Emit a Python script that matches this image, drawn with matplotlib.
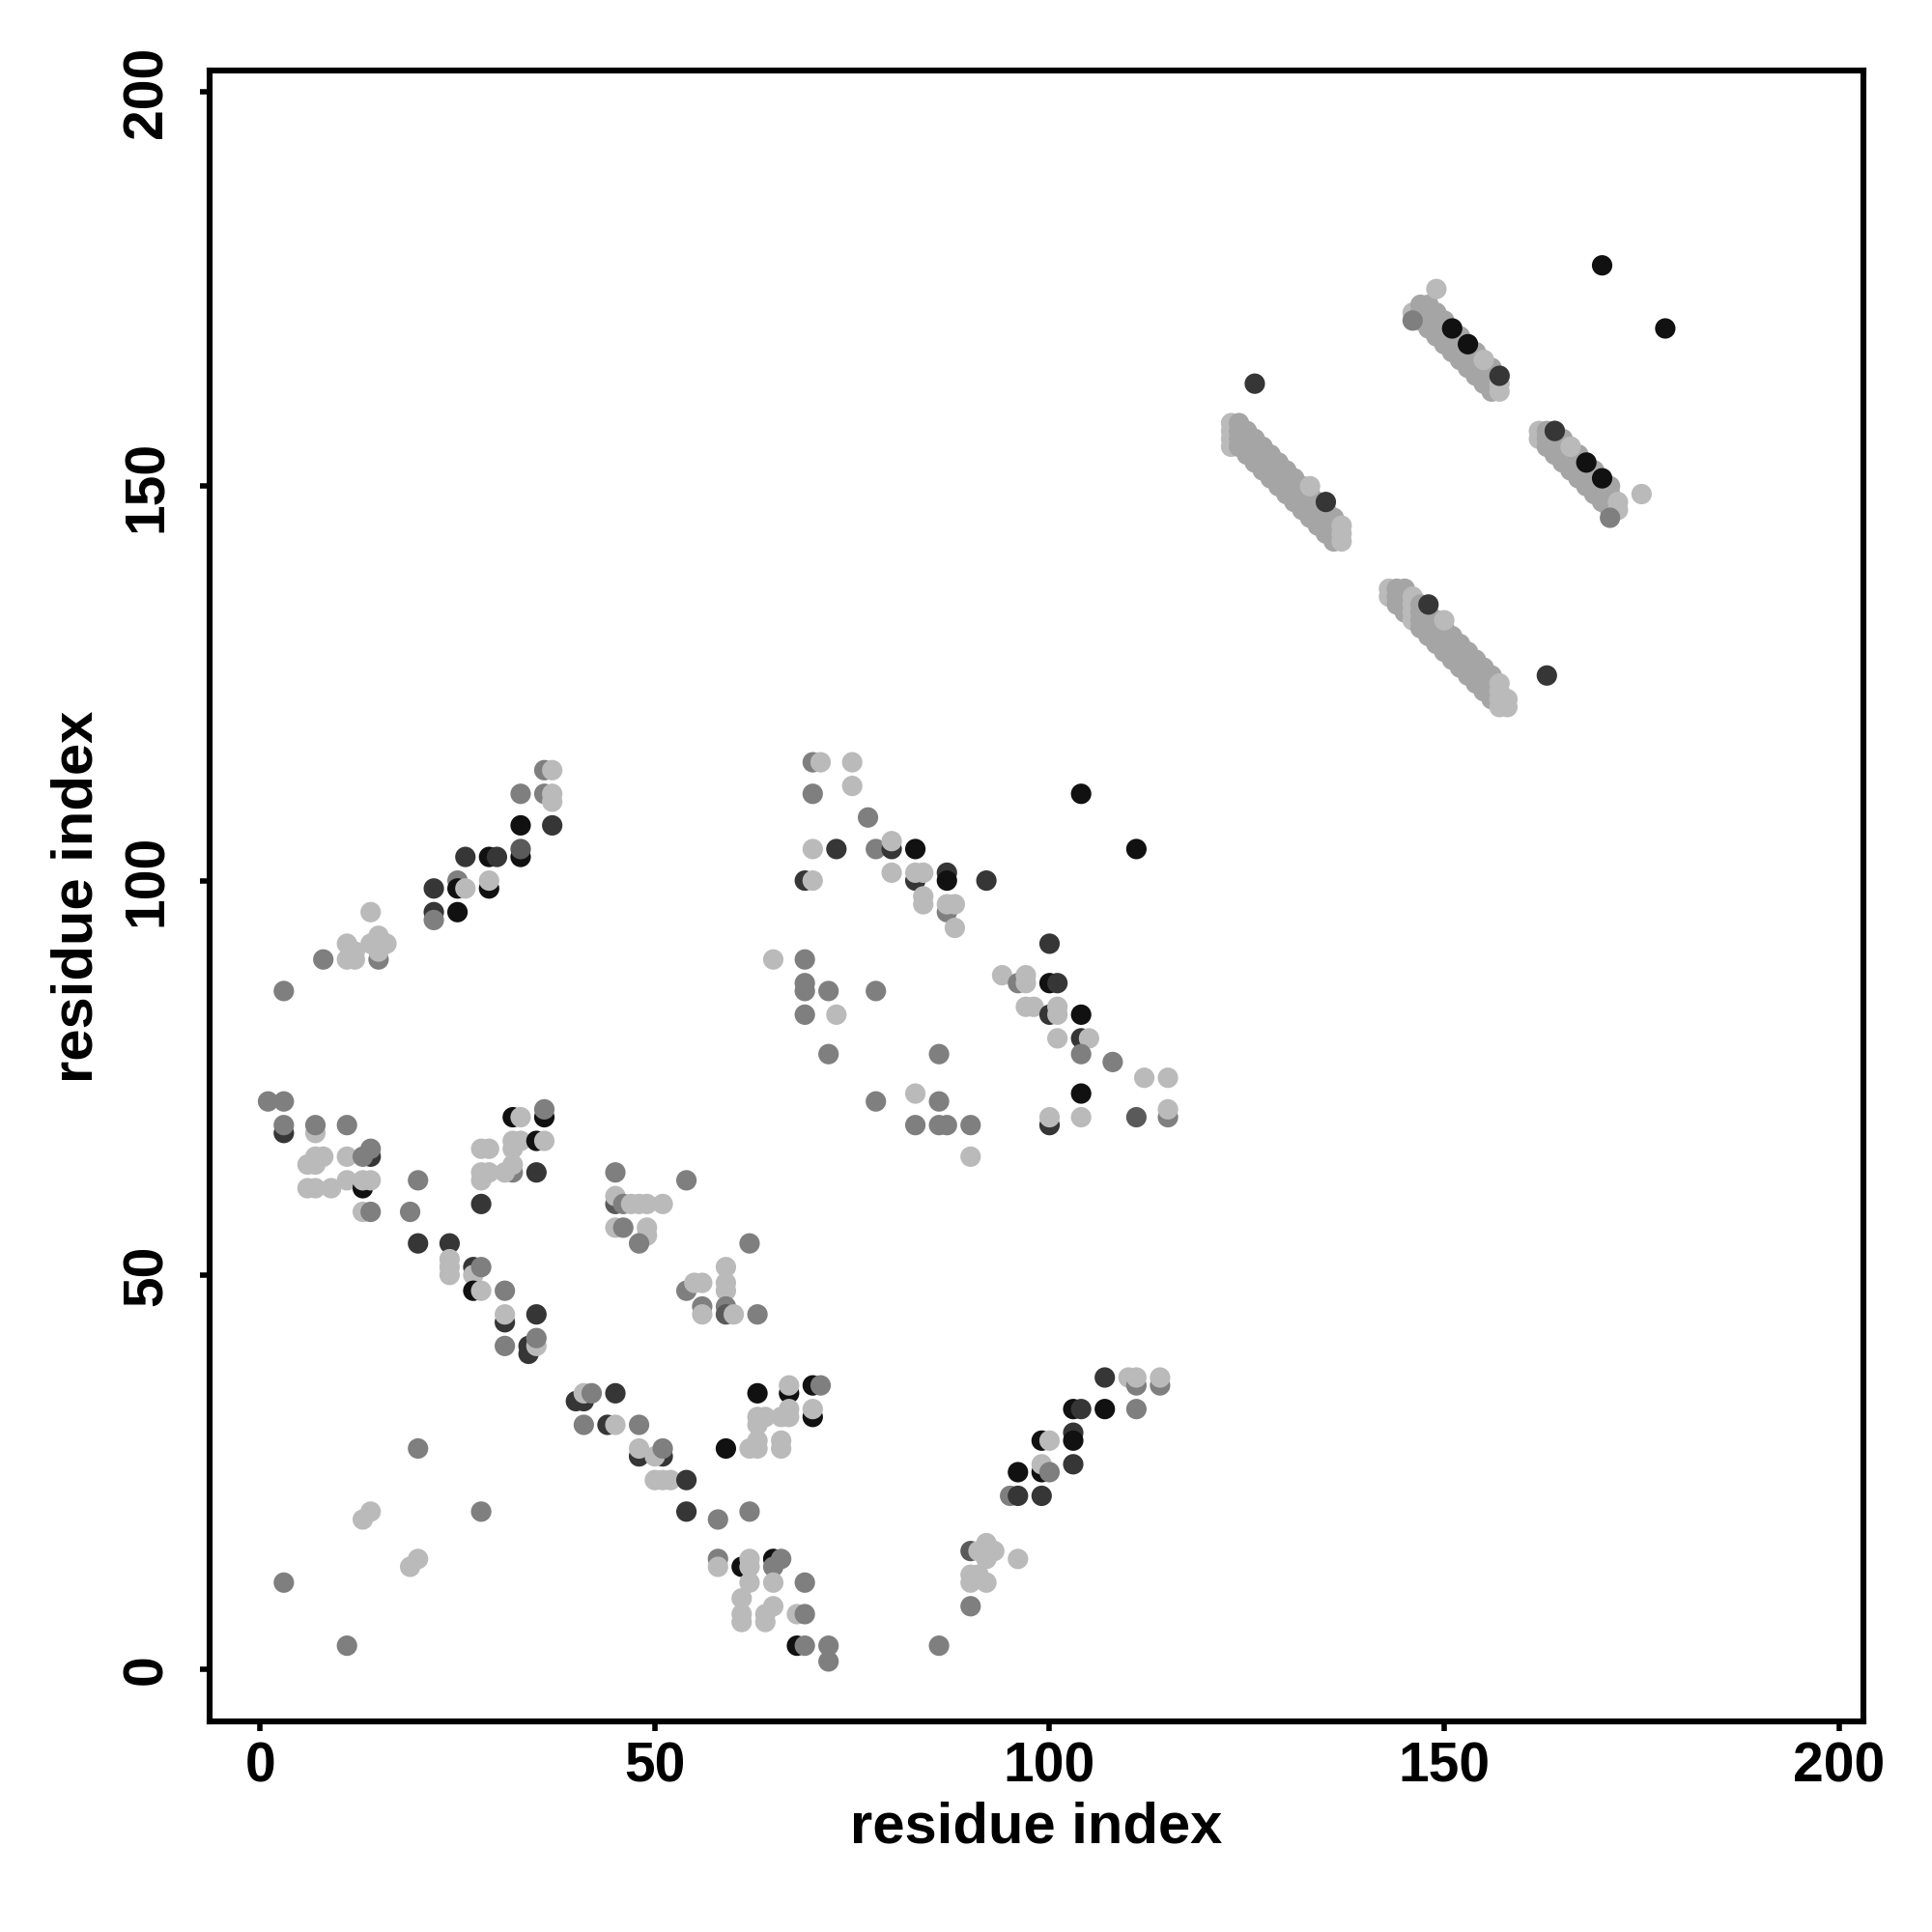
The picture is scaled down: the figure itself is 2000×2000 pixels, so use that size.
import matplotlib.pyplot as plt

plt.rcParams['font.family'] = ['Liberation Sans', 'DejaVu Sans']
plt.rcParams['font.weight'] = 'bold'

# grey level of each contact (L light ... K black)
shades = {'L': '#bababa', 'B': '#a5a5a5', 'M': '#7f7f7f',
          'G': '#5a5a5a', 'D': '#363636', 'K': '#111111'}

# scattered contacts (residue i, residue j, shade)
region_a = [(3, 86, 'M'), (8, 90, 'M'), (11, 92, 'L'), (12, 91, 'L'), (11, 90, 'L'), (12, 90, 'L'),
            (14, 96, 'L'), (15, 90, 'M'), (15, 93, 'L'), (16, 92, 'L'), (14, 92, 'L'), (15, 91, 'L'),
            (22, 99, 'D'), (22, 96, 'D'), (22, 95, 'M'), (25, 100, 'M'), (25, 99, 'K'), (26, 99, 'L'),
            (25, 96, 'K'), (26, 103, 'D'), (29, 103, 'K'), (30, 103, 'D'), (29, 99, 'K'), (29, 100, 'L'),
            (33, 103, 'K'), (33, 104, 'G'), (33, 107, 'K'), (33, 111, 'M'), (36, 114, 'M'), (37, 114, 'L'),
            (36, 111, 'M'), (37, 111, 'L'), (37, 110, 'L'), (37, 107, 'D')]

region_b = [(1, 72, 'M'), (3, 72, 'M'), (3, 68, 'D'), (3, 69, 'M'), (7, 68, 'L'), (7, 69, 'M'),
            (11, 69, 'M'), (6, 64, 'L'), (7, 64, 'L'), (7, 65, 'L'), (8, 65, 'L'), (11, 65, 'L'),
            (14, 65, 'D'), (13, 65, 'M'), (14, 66, 'M'), (6, 61, 'L'), (7, 61, 'L'), (9, 61, 'L'),
            (11, 62, 'L'), (13, 61, 'K'), (13, 62, 'L'), (14, 62, 'L'), (13, 58, 'L'), (14, 58, 'M'),
            (20, 62, 'M'), (19, 58, 'M'), (28, 59, 'D'), (28, 66, 'L'), (29, 66, 'L'), (28, 63, 'L'),
            (29, 63, 'L'), (28, 62, 'L'), (32, 63, 'M'), (31, 63, 'L'), (32, 64, 'L'), (32, 67, 'L'),
            (33, 67, 'L'), (32, 66, 'L'), (32, 70, 'K'), (33, 70, 'L'), (35, 67, 'K'), (36, 67, 'L'),
            (36, 70, 'K'), (36, 71, 'M'), (35, 63, 'D')]

region_c = [(20, 54, 'D'), (24, 54, 'D'), (24, 52, 'L'), (24, 51, 'L'), (24, 50, 'L'), (27, 51, 'D'),
            (27, 50, 'L'), (28, 51, 'M'), (27, 48, 'K'), (28, 48, 'L'), (31, 48, 'M'), (31, 44, 'D'),
            (31, 45, 'L'), (35, 45, 'D'), (31, 41, 'M'), (34, 41, 'D'), (34, 40, 'D'), (35, 41, 'L'),
            (35, 42, 'M'), (40, 34, 'D'), (41, 34, 'D'), (41, 35, 'L'), (42, 35, 'M'), (41, 31, 'M'),
            (20, 28, 'M'), (14, 20, 'L'), (13, 19, 'L'), (28, 20, 'M'), (20, 14, 'L'), (19, 13, 'L'),
            (3, 11, 'M'), (11, 3, 'M')]

region_d = [(45, 63, 'M'), (54, 62, 'M'), (45, 59, 'G'), (45, 60, 'L'), (46, 59, 'M'), (47, 59, 'L'),
            (48, 59, 'L'), (49, 59, 'L'), (51, 59, 'L'), (45, 56, 'L'), (46, 56, 'M'), (49, 56, 'L'),
            (49, 55, 'L'), (48, 54, 'M'), (62, 54, 'M'), (59, 51, 'L'), (54, 48, 'M'), (55, 49, 'L'),
            (56, 49, 'L'), (59, 49, 'L'), (59, 48, 'L'), (56, 46, 'M'), (56, 45, 'L'), (59, 46, 'M'),
            (59, 45, 'G'), (60, 45, 'L'), (63, 45, 'M'), (45, 35, 'D'), (44, 31, 'D'), (45, 31, 'L'),
            (48, 31, 'M'), (48, 27, 'D'), (48, 28, 'L'), (51, 27, 'D'), (50, 27, 'L'), (51, 28, 'M'),
            (50, 24, 'L'), (51, 24, 'L'), (52, 24, 'L'), (54, 24, 'D'), (54, 20, 'D'), (58, 19, 'M'),
            (62, 20, 'M')]

region_e = [(63, 35, 'K'), (67, 35, 'K'), (67, 36, 'L'), (70, 36, 'K'), (71, 36, 'M'), (70, 32, 'K'),
            (70, 33, 'L'), (63, 32, 'L'), (64, 32, 'L'), (66, 32, 'L'), (67, 33, 'L'), (67, 32, 'L'),
            (63, 31, 'L'), (59, 28, 'K'), (62, 28, 'L'), (63, 29, 'L'), (63, 28, 'L'), (66, 29, 'L'),
            (66, 28, 'L'), (58, 14, 'M'), (58, 13, 'L'), (61, 13, 'K'), (62, 14, 'L'), (62, 13, 'L'),
            (65, 14, 'K'), (65, 13, 'M'), (66, 14, 'M'), (62, 11, 'L'), (65, 11, 'L'), (69, 11, 'M'),
            (61, 9, 'L'), (61, 7, 'L'), (61, 6, 'L'), (64, 7, 'L'), (65, 8, 'L'), (64, 6, 'L'),
            (68, 7, 'L'), (69, 7, 'M'), (68, 3, 'K'), (69, 3, 'M'), (72, 3, 'M'), (72, 1, 'M')]

region_f = [(70, 115, 'M'), (71, 115, 'L'), (75, 115, 'L'), (70, 111, 'M'), (75, 112, 'L'), (77, 108, 'M'),
            (104, 111, 'K'), (70, 104, 'L'), (73, 104, 'D'), (78, 104, 'M'), (80, 104, 'D'), (80, 105, 'L'),
            (83, 104, 'K'), (111, 104, 'K'), (69, 100, 'D'), (70, 100, 'L'), (80, 101, 'L'), (83, 100, 'D'),
            (83, 101, 'L'), (84, 101, 'L'), (87, 101, 'D'), (87, 100, 'K'), (92, 100, 'D'), (84, 98, 'L'),
            (84, 97, 'L'), (87, 96, 'M'), (87, 97, 'L'), (88, 97, 'L'), (88, 94, 'L'), (100, 92, 'D'),
            (65, 90, 'L'), (69, 90, 'M'), (69, 87, 'M'), (69, 86, 'M'), (72, 86, 'M'), (78, 86, 'M'),
            (69, 83, 'M'), (73, 83, 'L'), (72, 78, 'M'), (86, 78, 'M'), (94, 88, 'L'), (96, 87, 'M'),
            (97, 88, 'L'), (97, 87, 'L'), (100, 87, 'K'), (101, 87, 'D'), (97, 84, 'L'), (98, 84, 'L'),
            (100, 83, 'D'), (101, 84, 'L'), (101, 83, 'L'), (104, 83, 'K'), (101, 80, 'L'), (104, 80, 'D'),
            (105, 80, 'L'), (104, 78, 'M'), (108, 77, 'M'), (112, 75, 'L'), (115, 75, 'L'), (104, 73, 'K'),
            (78, 72, 'M'), (83, 73, 'L'), (86, 72, 'M'), (83, 69, 'M'), (86, 69, 'M'), (87, 69, 'M'),
            (90, 69, 'M'), (90, 65, 'L'), (100, 69, 'D'), (100, 70, 'L'), (104, 70, 'L'), (111, 70, 'G'),
            (115, 70, 'M'), (115, 71, 'L')]

region_g = [(107, 37, 'D'), (110, 37, 'L'), (111, 36, 'M'), (111, 37, 'L'), (114, 36, 'M'), (114, 37, 'L'),
            (103, 33, 'K'), (104, 33, 'D'), (107, 33, 'K'), (111, 33, 'M'), (99, 29, 'K'), (100, 29, 'L'),
            (103, 30, 'D'), (103, 29, 'K'), (96, 25, 'K'), (99, 25, 'K'), (99, 26, 'L'), (100, 25, 'M'),
            (103, 26, 'D'), (95, 22, 'M'), (96, 22, 'D'), (99, 22, 'D'), (90, 15, 'G'), (91, 15, 'L'),
            (92, 16, 'L'), (92, 15, 'L'), (93, 15, 'L'), (92, 14, 'L'), (96, 14, 'L'), (90, 12, 'L'),
            (91, 12, 'L'), (90, 11, 'L'), (92, 11, 'L'), (90, 8, 'M'), (86, 3, 'M')]

# beta-sheet bands: column i -> paired residues j
band_1 = {123: (155, 156, 157, 158), 124: (155, 156, 157, 158), 125: (154, 155, 156, 157),
          126: (153, 154, 155, 156), 127: (152, 153, 154, 155), 128: (151, 152, 153, 154),
          129: (150, 151, 152, 153), 130: (149, 150, 151, 152), 131: (148, 149, 150, 151),
          132: (147, 148, 149, 150), 133: (146, 147, 148, 149), 134: (145, 146, 147, 148),
          135: (144, 145, 146, 147), 136: (143, 144, 145, 146), 137: (143, 144, 145)}
band_2 = {143: (136, 137), 144: (135, 136, 137), 145: (134, 135, 136, 137), 146: (133, 134, 135, 136),
          147: (132, 133, 134, 135), 148: (131, 132, 133, 134), 149: (130, 131, 132, 133),
          150: (129, 130, 131, 132), 151: (128, 129, 130, 131), 152: (127, 128, 129, 130),
          153: (126, 127, 128, 129), 154: (125, 126, 127, 128), 155: (124, 125, 126, 127),
          156: (123, 124, 125, 126), 157: (122, 123, 124, 125), 158: (122, 123)}
band_3 = {146: (172,), 147: (171, 172, 173), 148: (170, 171, 172, 173), 149: (169, 170, 171, 172),
          150: (168, 169, 170, 171), 151: (167, 168, 169, 170), 152: (166, 167, 168, 169),
          153: (165, 166, 167, 168), 154: (164, 165, 166, 167), 155: (163, 164, 165, 166),
          156: (162, 163, 164, 165), 157: (162, 163, 164)}
band_4 = {162: (156, 157), 163: (155, 156, 157), 164: (154, 155, 156, 157), 165: (153, 154, 155, 156),
          166: (152, 153, 154, 155), 167: (151, 152, 153, 154), 168: (150, 151, 152, 153),
          169: (149, 150, 151, 152), 170: (148, 149, 150, 151), 171: (147, 148, 149, 150),
          172: (147, 148)}
# lighter columns at the band ends
band_light_cols = [123, 137, 143, 158, 146, 157, 162, 172]

region_h = [(133, 150, 'L'), (135, 148, 'D'), (148, 135, 'D'), (150, 133, 'L'), (146, 171, 'M'),
            (151, 170, 'K'), (153, 168, 'K'), (155, 166, 'L'), (157, 164, 'D'), (164, 157, 'D'),
            (166, 155, 'L'), (168, 153, 'K'), (170, 151, 'K'), (171, 146, 'M'), (175, 149, 'L'),
            (149, 175, 'L'), (126, 163, 'D'), (163, 126, 'D'), (170, 178, 'K'), (178, 170, 'K')]

points = []
for band in (band_1, band_2, band_3, band_4):
    for i, js in band.items():
        lev = 'L' if i in band_light_cols else 'B'
        for j in js:
            points.append((i, j, lev))
for reg in (region_a, region_b, region_c, region_d, region_e, region_f, region_g, region_h):
    points.extend(reg)

xs = [p[0] for p in points]
ys = [p[1] for p in points]
cs = [shades[p[2]] for p in points]

fig = plt.figure(figsize=(10, 10), dpi=200)
ax = fig.add_axes([0.1085, 0.109, 0.856, 0.8545])
ax.scatter(xs, ys, c=cs, s=58, linewidths=0)

ax.set_xlim(-6.4, 203.1)
ax.set_ylim(-6.6, 202.7)
ax.set_xticks([0, 50, 100, 150, 200])
ax.set_yticks([0, 50, 100, 150, 200])
for sp in ax.spines.values():
    sp.set_linewidth(2.2)
ax.tick_params(axis='both', width=2.0, length=3.5, labelsize=20.5)
ax.tick_params(axis='x', pad=4)
ax.tick_params(axis='y', pad=10, labelrotation=90)
for lbl in ax.get_yticklabels():
    lbl.set_va('center')
    lbl.set_fontweight('bold')
for lbl in ax.get_xticklabels():
    lbl.set_fontweight('bold')

fig.text(0.5365, 0.054, 'residue index', ha='center', va='center', fontsize=21.5, fontweight='bold')
fig.text(0.04, 0.536, 'residue index', ha='center', va='center', rotation=90, fontsize=21.5, fontweight='bold')

fig.savefig('out.png', dpi=200, facecolor='white')
